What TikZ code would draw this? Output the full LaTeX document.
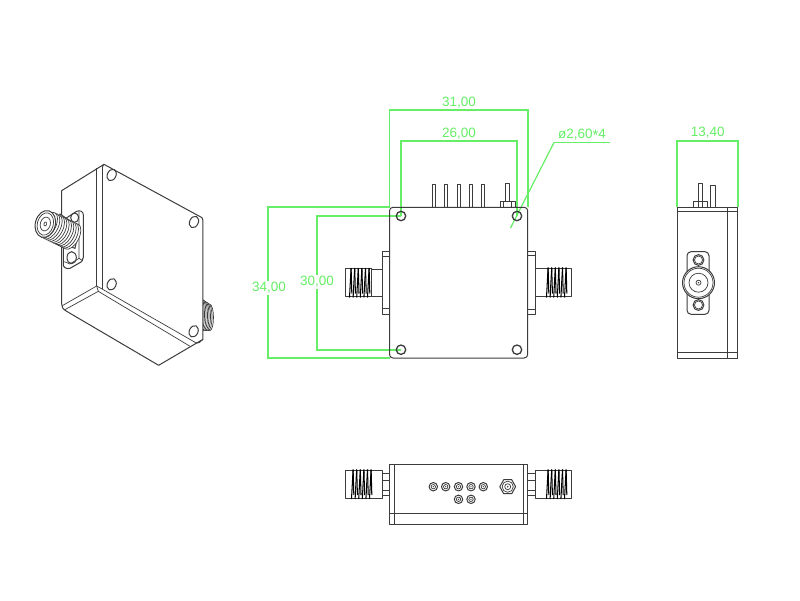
\documentclass[tikz,border=0pt]{standalone}
\usepackage{fontspec}
\setmainfont{Liberation Sans}
\definecolor{cadline}{HTML}{3C3C3C}
\definecolor{dimgreen}{HTML}{66EE66}
\tikzset{
  part/.style={draw=cadline,line width=1pt,line join=round},
  fine/.style={draw=cadline,line width=0.7pt,line join=round},
  thread/.style={draw=black,line width=1.05pt},
  dimline/.style={draw=dimgreen,line width=1.7pt},
  leaderline/.style={draw=dimgreen,line width=1.2pt},
  dimtext/.style={text=dimgreen,inner sep=1pt,font=\fontsize{13.5}{13.5}\selectfont},
  dimgap/.style={dimtext,fill=white}
}
\newcommand{\threadset}[5]{% x0, step, count, ytop, ybot
  \foreach \i in {1,...,#3}{
    \pgfmathsetmacro{\xa}{#1+(\i-1)*#2}
    \draw[thread] (\xa+1.6,#4) -- (\xa,#5);
    \draw[thread] (\xa+1.6,#4) -- (\xa+1.6+#2*0.2,#5-4);
  }
}
\newcommand{\topring}[2]{%
  \draw[part] (#1,#2) circle (4.2);
  \draw[fine] (#1,#2) circle (2.2);
  \fill[cadline] (#1,#2) circle (0.7);
}
\begin{document}
\begin{tikzpicture}[x=1pt,y=-1pt]
\useasboundingbox (0,0) rectangle (800,600);
\fill[white] (0,0) rectangle (800,600);

% ---------- isometric view (reference zoom units) ----------
\begin{scope}[shift={(30,150)},x=0.3333pt,y=-0.3333pt]
  % rear connector
  \foreach \t in {7,6,...,0}{
    \draw[fine,fill=white] (508+\t*4.5,492+\t*1.5) ellipse [x radius=11,y radius=50-\t*1.5];
  }
  % body
  \draw[part,fill=white] (95,122) -- (222,43) -- (516,203) .. controls (519,206) and (519,208) .. (519,212)
     -- (519,568) -- (386,646) -- (110,484) .. controls (98,476) and (95,472) .. (95,462) -- cycle;
  \draw[fine] (200,55) -- (200,408);
  \draw[fine] (218,50) -- (218,418);
  \draw[part] (222,43) .. controls (218,45) and (218,48) .. (218,52);
  \draw[fine] (97,467) -- (200,408) -- (218,418) -- (497,578) .. controls (505,582) and (515,575) .. (519,568);
  \draw[fine] (103,480) -- (205,424) -- (482,590);
  \draw[fine] (200,408) -- (205,424);
  % holes of the front face
  \foreach \hx/\hy in {245/75,492/216,245/403,491/544}{
    \draw[part,rotate around={-25:(\hx,\hy)}] (\hx,\hy) ellipse [x radius=13,y radius=18];
  }
  % flange
  \draw[part,fill=white] (100,345) .. controls (100,352) and (110,358) .. (120,355)
     -- (155,335) .. controls (160,330) and (160,328) .. (160,322) -- (160,195)
     .. controls (160,184) and (150,180) .. (140,184) -- (100,210) -- cycle;
  \draw[fine] (147,185) -- (147,325) -- (120,342) -- (103,335);
  \draw[fine] (147,325) -- (158,332);
  \draw[part] (125,323) ellipse [x radius=14,y radius=18];
  \draw[part] (134,203) ellipse [x radius=12,y radius=14];
  % stem
  \draw[part,fill=white] (90,192) -- (148,232) -- (135,295) -- (60,268) -- cycle;
  % threads
  \foreach \t in {11,10,...,1}{
    \draw[fine,fill=white,rotate around={-28:(48+\t*7,222+\t*3.4)}]
      (48+\t*7,222+\t*3.4) ellipse [x radius=22,y radius=42];
  }
  % connector face
  \draw[part,fill=white,rotate around={-15:(46,222)}] (46,222) ellipse [x radius=30,y radius=41];
  \draw[fine,rotate around={-15:(46,222)}] (46,222) ellipse [x radius=24,y radius=34];
  \draw[fine,rotate around={-15:(46,222)}] (46,222) ellipse [x radius=15,y radius=21];
  \draw[fine,rotate around={-15:(46,222)}] (46,222) ellipse [x radius=4,y radius=6];
\end{scope}

% ---------- front view: connectors ----------
% left
\draw[part] (390,251.7) -- (382,251.7) -- (382,314) -- (390,314);
\draw[fine] (382,256.7) -- (390,256.7) (382,308.5) -- (390,308.5);
\draw[part] (382,269) -- (371.7,269) (382,296.7) -- (371.7,296.7);
\draw[part] (372,268.5) -- (345.7,268.5) -- (345.7,296.7) -- (372,296.7);
\threadset{349.5}{3.6}{6}{268}{297.5}
\draw[part] (371.7,268.5) -- (371.7,296.7);
% right
\draw[part] (528,251.7) -- (535.7,251.7) -- (535.7,314) -- (528,314);
\draw[fine] (528,255.7) -- (535.7,255.7) (528,309) -- (535.7,309);
\draw[part] (535.7,268) -- (571.7,268) -- (571.7,296.7) -- (535.7,296.7);
\threadset{546.5}{3.6}{6}{267.5}{297.5}

% ---------- front view: dimensions ----------
\draw[dimline] (389.5,207.3) -- (389.5,109.7) -- (527.7,109.7) -- (527.7,207.3);
\draw[dimline] (401,216) -- (401,140.7) -- (517,140.7) -- (517,216);
\draw[leaderline] (510.5,228) -- (554,142.5);
\draw[dimline] (554,142.5) -- (610,142.5);
\node[dimtext] (d31) at (459,103) {31,00};
\node[dimtext] (d26) at (459,134) {26,00};
\node[dimtext] (dhole) at (582,135) {ø2,60\raisebox{-1.5pt}{\fontsize{15}{15}\selectfont *}4};
\draw[dimline] (389.5,207.3) -- (268,207.3) -- (268,358) -- (389.5,358);
\draw[dimline] (401,215.7) -- (317,215.7) -- (317,349.7) -- (401,349.7);
\node[dimgap] (d34) at (269,288) {34,00};
\node[dimgap] (d30) at (317,282) {30,00};

% ---------- front view: pins ----------
\foreach \px in {433.7,446,458.7,471,483}{
  \draw[part] (\px-1.6,207) -- (\px-1.6,184.7) -- (\px+1.6,184.7) -- (\px+1.6,207);
}
\draw[part] (505.5,201.7) -- (505.5,183) -- (509.9,183) -- (509.9,201.7);
\draw[part] (500,207) -- (500,201.7) -- (515,201.7) -- (515,207);
\draw[fine] (503.5,201.7) -- (503.5,207) (511.5,201.7) -- (511.5,207);

% ---------- front view: body ----------
\draw[part,rounded corners=3.5pt] (389.5,207.3) rectangle (527.7,358);
\foreach \hx/\hy in {401/216,517/216,401/349.7,517/349.7}{
  \draw[cadline,line width=1.3pt] (\hx,\hy) circle (4.7);
}

% ---------- side view ----------
\draw[dimline] (677.3,207.3) -- (677.3,140.7) -- (737.7,140.7) -- (737.7,207.3);
\node[dimtext] (d13) at (707.7,133) {13,40};
\draw[part] (698,207.3) -- (698,201.7) -- (693.3,201.7) -- (693.3,207.3) (693.3,201.7) -- (707,201.7) -- (707,207.3);
\draw[part] (698,201.7) -- (698,183) -- (702.2,183) -- (702.2,207.3);
\draw[part] (710.3,207.3) -- (710.3,185) -- (715,185) -- (715,207.3);
\draw[part] (677.3,207.3) rectangle (737.7,358.3);
\draw[fine] (677.3,211.7) -- (737.7,211.7) (677.3,352.7) -- (737.7,352.7) (727.3,207.3) -- (727.3,358.3);
\draw[part,rounded corners=4pt] (687,251.7) rectangle (709,314.3);
\draw[part,fill=white] (698.5,282.7) circle (16);
\draw[fine] (698.5,282.7) circle (14.5);
\draw[fine] (698.5,282.7) circle (9.5);
\draw[fine] (698.5,282.7) circle (2.5);
\fill[cadline] (698.5,282.7) circle (0.8);
\foreach \hy in {260,305}{
  \draw[part] (698.5,\hy) circle (5.4);
  \draw[fine] (698.5,\hy) circle (4);
}

% ---------- bottom view ----------
\draw[part] (389.3,464.3) rectangle (527.7,524.3);
\draw[fine] (394,464.3) -- (394,524.3) (523.3,464.3) -- (523.3,524.3) (389.3,513.3) -- (527.7,513.3);
% left connector
\draw[fine] (382.7,473.3) -- (389.3,473.3) (382.7,480) -- (389.3,480) (382.7,490) -- (389.3,490) (382.7,495) -- (389.3,495);
\draw[part] (382.7,470.7) -- (345.7,470.7) -- (345.7,498.3) -- (382.7,498.3) -- cycle;
\threadset{351.5}{3.6}{6}{469.5}{499}
% right connector
\draw[fine] (527.7,473.3) -- (535,473.3) (527.7,480) -- (535,480) (527.7,490) -- (535,490) (527.7,495) -- (535,495);
\draw[part] (535,470.7) -- (571.7,470.7) -- (571.7,498.3) -- (535,498.3) -- cycle;
\threadset{546.5}{3.6}{6}{469.5}{499}
% pin rings
\foreach \px in {433.3,445.7,458.5,471,483.3}{ \topring{\px}{486.7} }
\foreach \px in {458.5,471}{ \topring{\px}{499.3} }
% coaxial feed-through
\draw[part] (499.8,486.7) -- (503.7,479.7) -- (511.7,479.7) -- (515.6,486.7) -- (511.7,493.7) -- (503.7,493.7) -- cycle;
\draw[fine] (507.7,486.7) circle (5.6);
\draw[fine] (507.7,486.7) circle (3);
\fill[cadline] (507.7,486.7) circle (0.9);
\end{tikzpicture}
\end{document}
